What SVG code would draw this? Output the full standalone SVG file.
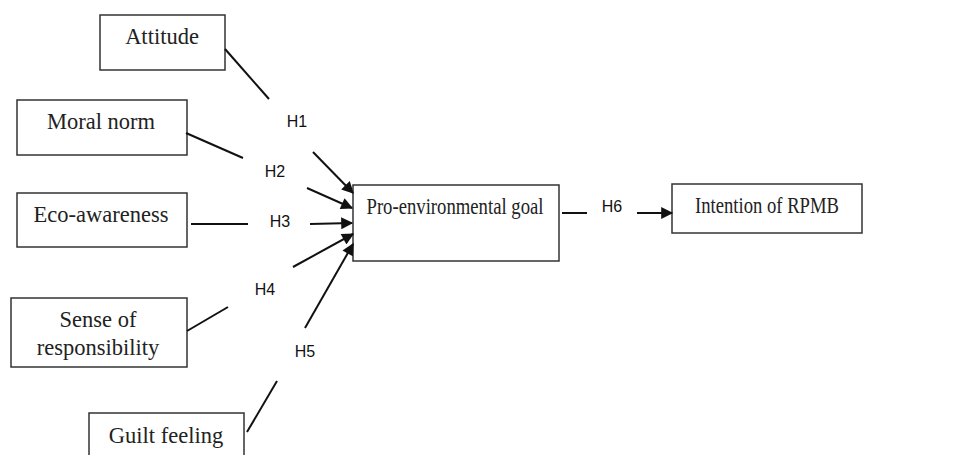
<svg xmlns="http://www.w3.org/2000/svg" width="967" height="455" viewBox="0 0 967 455">
<style>
.box{fill:#fff;stroke:#333;stroke-width:1.5}
.lbl{font-family:"Liberation Serif","Times New Roman",serif;font-size:22.5px;fill:#222;text-anchor:middle}
.h{font-family:"Liberation Sans",Arial,sans-serif;font-size:16px;fill:#111;text-anchor:middle}
.ln{stroke:#111;stroke-width:2;fill:none}
</style>
<defs>
<marker id="ah" viewBox="0 0 10 10" refX="9" refY="5" markerWidth="6.5" markerHeight="6" orient="auto" markerUnits="strokeWidth">
<path d="M0,0 L10,5 L0,10 z" fill="#111"/>
</marker>
</defs>
<rect width="967" height="455" fill="#fff"/>
<g id="attitude"><rect class="box" x="100" y="15" width="125" height="55"/><text class="lbl" x="162" y="44">Attitude</text></g>
<g id="moral-norm"><rect class="box" x="17" y="100" width="170" height="55"/><text class="lbl" x="101" y="129">Moral norm</text></g>
<g id="eco-awareness"><rect class="box" x="17" y="193" width="170" height="54"/><text class="lbl" x="101" y="222">Eco-awareness</text></g>
<g id="sense-of-responsibility"><rect class="box" x="11" y="298" width="176" height="69"/><text class="lbl" x="98" y="327">Sense of</text><text class="lbl" x="98" y="355">responsibility</text></g>
<g id="guilt-feeling"><rect class="box" x="89" y="413" width="155" height="60"/><text class="lbl" x="166" y="443">Guilt feeling</text></g>
<g id="pro-environmental-goal"><rect class="box" x="353" y="185" width="206" height="76"/><text class="lbl" x="455" y="214" textLength="177" lengthAdjust="spacingAndGlyphs">Pro-environmental goal</text></g>
<g id="intention-of-rpmb"><rect class="box" x="672" y="184" width="190" height="49"/><text class="lbl" x="767" y="213" textLength="144" lengthAdjust="spacingAndGlyphs">Intention of RPMB</text></g>
<g id="connectors">
<line class="ln" x1="225" y1="49" x2="269" y2="99"/>
<line class="ln" x1="313" y1="152" x2="353" y2="193" marker-end="url(#ah)"/>
<line class="ln" x1="186" y1="133" x2="243" y2="158"/>
<line class="ln" x1="307" y1="188" x2="352" y2="208" marker-end="url(#ah)"/>
<line class="ln" x1="191" y1="224" x2="248" y2="224"/>
<line class="ln" x1="310" y1="224" x2="352" y2="223" marker-end="url(#ah)"/>
<line class="ln" x1="187" y1="331" x2="228" y2="307"/>
<line class="ln" x1="293" y1="267" x2="353" y2="234" marker-end="url(#ah)"/>
<line class="ln" x1="247" y1="432" x2="277" y2="381"/>
<line class="ln" x1="305" y1="328" x2="353" y2="244" marker-end="url(#ah)"/>
<line class="ln" x1="562" y1="213" x2="587" y2="213"/>
<line class="ln" x1="637" y1="213" x2="672" y2="213" marker-end="url(#ah)"/>
</g>
<g id="labels">
<text class="h" x="297" y="127">H1</text>
<text class="h" x="275" y="177">H2</text>
<text class="h" x="280" y="227">H3</text>
<text class="h" x="265" y="295">H4</text>
<text class="h" x="305" y="357">H5</text>
<text class="h" x="612" y="212">H6</text>
</g>
</svg>
